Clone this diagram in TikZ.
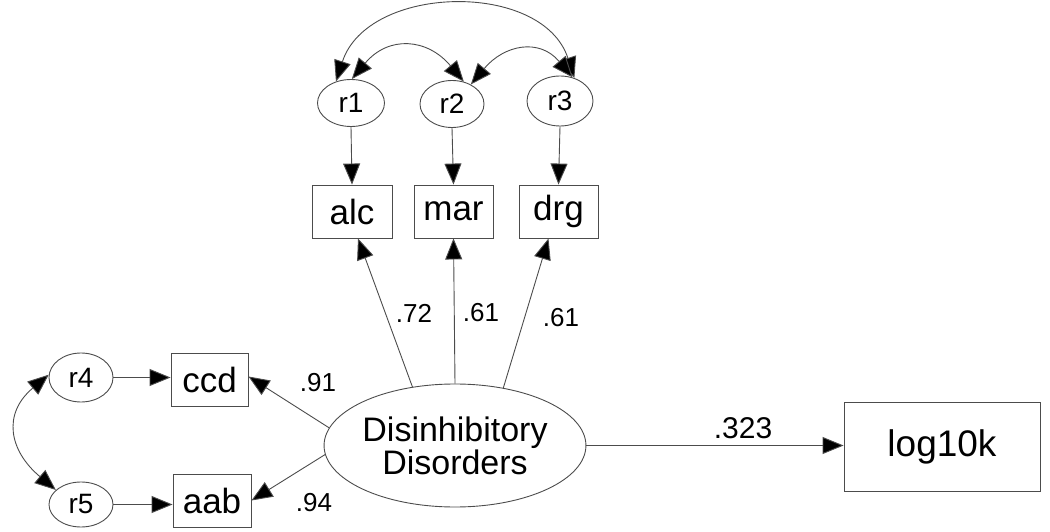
\documentclass[tikz,border=0pt]{standalone}
\usepackage{fontspec}
\setmainfont{Liberation Sans}
\usetikzlibrary{arrows.meta,shapes.geometric}
\begin{document}
\begin{tikzpicture}[x=1pt,y=1pt,
  ln/.style={draw=black!70, line width=0.9pt},
  obs/.style={ln, rectangle, inner sep=0pt, font=\fontsize{35}{35}\selectfont},
  err/.style={ln, ellipse, inner sep=0pt, font=\fontsize{28}{28}\selectfont},
  lat/.style={ln, ellipse, inner sep=0pt, align=center, font=\fontsize{34}{33}\selectfont},
  path1/.style={ln, -{Triangle[length=21pt,width=17pt,fill=black]}},
  cov/.style={ln, {Triangle[length=21pt,width=17pt,fill=black]}-{Triangle[length=21pt,width=17pt,fill=black]}},
  coef/.style={font=\fontsize{26}{26}\selectfont, inner sep=0pt}
]
\useasboundingbox (0,0) rectangle (1050,531);
% error terms
\node[err, minimum width=67pt, minimum height=47pt] (r1) at (351,428) {r1};
\node[err, minimum width=64pt, minimum height=47pt] (r2) at (452,427) {r2};
\node[err, minimum width=66pt, minimum height=50pt] (r3) at (560,430) {r3};
\node[err, minimum width=64pt, minimum height=49pt] (r4) at (81,153.5) {r4};
\node[err, minimum width=64pt, minimum height=45pt] (r5) at (81,26.5) {r5};
% observed
\node[obs, minimum width=80pt, minimum height=53pt] (alc) at (352,319.5) {alc};
\node[obs, minimum width=79pt, minimum height=53pt] (mar) at (453.5,319.5) {mar};
\node[obs, minimum width=79pt, minimum height=53pt] (drg) at (558.5,319.5) {drg};
\node[obs, minimum width=77pt, minimum height=53pt] (ccd) at (209.5,151.5) {ccd};
\node[obs, minimum width=78pt, minimum height=53pt] (aab) at (212,30.5) {aab};
\node[obs, minimum width=196pt, minimum height=89pt, font=\fontsize{37}{37}\selectfont] (lk) at (942,84.5) {log10k};
% latent
\node[lat, minimum width=244pt, minimum height=123pt] (dd) at (455,85.5) {Disinhibitory\\Disorders};
% error paths
\draw[path1] (r1.south) -- (alc.north);
\draw[path1] (r2.south) -- (mar.north);
\draw[path1] (r3.south) -- (drg.north);
\draw[path1] (r4.east) -- (r4.east -| ccd.west);
\draw[path1] (r5.east) -- (r5.east -| aab.west);
% loadings
\draw[path1] (dd.126) -- ([xshift=6pt]alc.south);
\draw[path1] (dd.north) -- (mar.south);
\draw[path1] (dd.50) -- ([xshift=-10pt]drg.south);
\draw[path1] (dd.172) -- ([yshift=3pt]ccd.east);
\draw[path1] (dd.184.5) -- (aab.east);
\draw[path1] (dd.east) -- (dd.east -| lk.west);
% covariances
\draw[cov] (r1.125) to[out=72,in=108,looseness=1.1] (r3.58);
\draw[cov] (r1.88) to[out=50,in=130,looseness=1.3] (r2.62);
\draw[cov] (r2.46) to[out=50,in=130,looseness=1.3] (r3.62);
\draw[cov] (r4.175) to[out=220,in=140,looseness=1.35] (r5.150);
% coefficients
\node[coef] (c1) at (318,148) {.91};
\node[coef] (c2) at (314,28) {.94};
\node[coef] (c3) at (414,218) {.72};
\node[coef] (c4) at (481,218) {.61};
\node[coef] (c5) at (561,213) {.61};
\node[coef, font=\fontsize{30}{30}\selectfont] (c6) at (743,103) {.323};
\end{tikzpicture}
\end{document}
